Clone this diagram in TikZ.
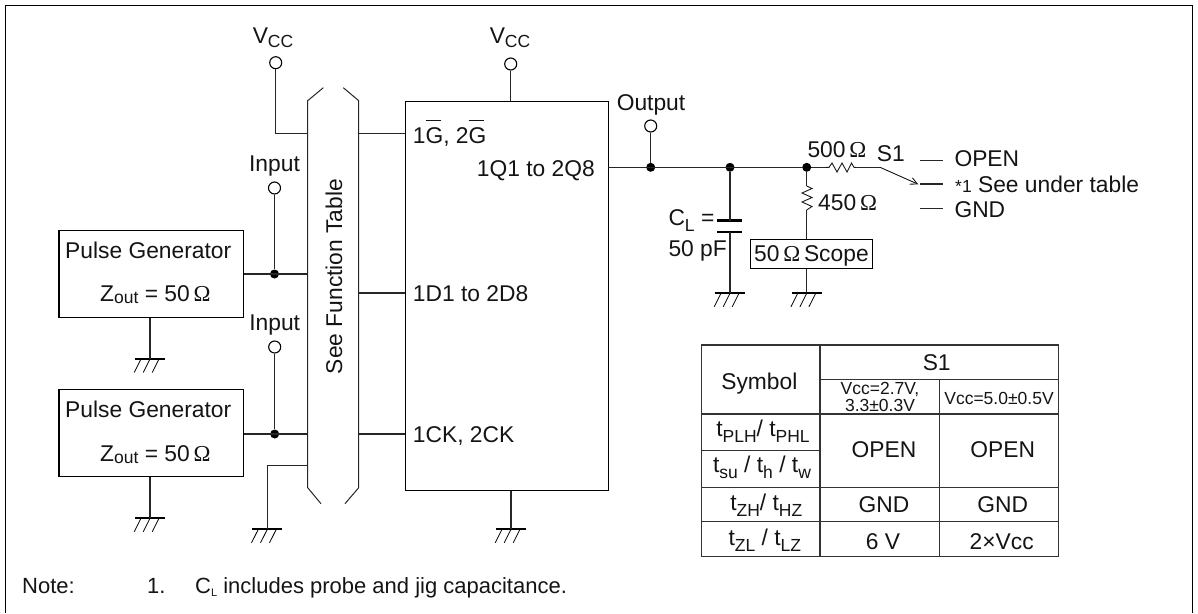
\documentclass[tikz,border=0pt]{standalone}
\usepackage{fontspec}
\setmainfont{Liberation Sans}
\newfontfamily\omgfont{Liberation Serif}
\usetikzlibrary{arrows.meta}
\newcommand{\fsz}{\fontsize{22.8}{24}\selectfont}
\newcommand{\fnt}{\fontsize{22}{24}\selectfont}
\newcommand{\fss}{\fontsize{17.5}{17}\selectfont}
\newcommand{\ohm}{\,{\omgfont Ω}}
\newcommand{\lsub}[1]{\raisebox{-0.12em}{\fss #1}}
\newcommand{\vsub}[1]{\raisebox{-4pt}{\fss #1}}
\newcommand{\dsub}[1]{\raisebox{-6pt}{\fss #1}}
\newcommand{\ovl}[1]{\rlap{\raisebox{22.3pt}{\rule{0.66em}{1.2pt}}}#1}
\tikzset{
  x=1pt,y=-1pt,
  wire/.style={draw=black!85,line width=1.1pt},
  boxn/.style={draw=black,line width=1.4pt,inner sep=0pt,anchor=north west},
  term/.style={circle,draw=black,fill=white,line width=1.1pt,minimum size=12pt,inner sep=0pt},
  dot/.style={circle,fill=black,minimum size=9pt,inner sep=0pt},
  txt/.style={font=\fsz,inner sep=0pt,text=black!92},
  ltxt/.style={txt,anchor=base west},
  ctxt/.style={txt,anchor=base},
  cell/.style={txt,anchor=base},
  notetxt/.style={ltxt,font=\fnt},
  grid/.style={draw=black!80,line width=1.1pt},
  gndbar/.style={draw=black,line width=2pt},
  hatch/.style={draw=black,line width=.8pt},
  plate/.style={draw=black,line width=2.5pt},
  band/.style={draw=black!85,line width=1pt},
  res/.style={draw=black!90,line width=.9pt}
}
\newcommand{\gnd}[3]{% name x y
  \coordinate (#1) at (#2,#3);
  \draw[gndbar] ([xshift=-15pt]#1) -- ([xshift=15pt]#1);
  \foreach \d in {-9,0,9}{\draw[hatch] ([xshift=\d pt]#1) -- ([xshift=\d pt-6.8pt,yshift=-13.5pt]#1);}
}
\begin{document}
\begin{tikzpicture}
\useasboundingbox (0,0) rectangle (1198,613);
\draw[black,line width=1.4pt] (5.5,613) -- (5.5,5.5) -- (1192.3,5.5) -- (1192.3,613);
% boxes
\node[boxn,minimum width=184.4pt,minimum height=86.7pt] (pg1) at (58.3,230) {};
\node[boxn,minimum width=184.4pt,minimum height=87pt] (pg2) at (58.3,389) {};
\node[boxn,minimum width=203pt,minimum height=389.3pt] (ic) at (405,100.7) {};
\node[boxn,line width=1.1pt,minimum width=121.7pt,minimum height=29.3pt] (scope) at (750,238.7) {};
% band
\draw[band] (323.3,87.7) -- (307.7,100.7) -- (307.7,487.7) -- (321,503.7);
\draw[band] (343.3,87.7) -- (358.7,100.7) -- (358.7,487.7) -- (345,503.7);
\coordinate (bL1) at (307.7,133.3);
\coordinate (bL2) at (307.7,274);
\coordinate (bL3) at (307.7,434);
\coordinate (bL4) at (307.7,465.7);
\coordinate (bR1) at (358.7,133.7);
\coordinate (bR2) at (358.7,293);
\coordinate (bR3) at (358.7,434);
\coordinate (icL1) at (405,133.7);
\coordinate (icL2) at (405,293);
\coordinate (icL3) at (405,434);
\coordinate (icO) at (608,167.3);
\node[txt,rotate=90] (sft) at (334,276.5) {See Function Table};
% terminals
\node[term] (vcc1) at (275.7,62.7) {};
\node[term] (vcc2) at (510.7,64) {};
\node[term] (in1) at (274.5,188) {};
\node[term] (in2) at (274.7,347) {};
\node[term] (out) at (650.7,126) {};
\node[dot] (d1) at (274.5,274) {};
\node[dot] (d2) at (274.7,434) {};
\node[dot] (d3) at (650.7,167.3) {};
\node[dot] (d4) at (730,167.3) {};
\node[dot] (d5) at (806.7,167.3) {};
% grounds
\gnd{g1}{150}{359}
\gnd{g2}{150}{518.3}
\gnd{g3}{267.3}{529.3}
\gnd{g4}{511}{529.3}
\gnd{g5}{730}{293.3}
\gnd{g6}{806.7}{293.3}
% connectors
\draw[wire] (vcc1) -- (vcc1 |- bL1) -- (bL1);
\draw[wire] (vcc2) -- (vcc2 |- ic.north);
\draw[wire] (bR1) -- (icL1);
\draw[wire] (bR2) -- (icL2);
\draw[wire] (bR3) -- (icL3);
\draw[wire] (in1) -- (d1);
\draw[wire] (in2) -- (d2);
\draw[wire] (pg1.east |- d1) -- (bL2);
\draw[wire] (pg2.east |- d2) -- (bL3);
\draw[wire] (pg1.south -| g1) -- (g1);
\draw[wire] (pg2.south -| g2) -- (g2);
\draw[wire] (bL4) -- (g3 |- bL4) -- (g3);
\draw[wire] (ic.south -| g4) -- (g4);
\draw[wire] (out) -- (d3);
\draw[wire] (icO) -- (d5);
% cap
\coordinate (capT) at (730,220.7);
\coordinate (capB) at (730,232);
\draw[plate] (717.3,220.7) -- (742.3,220.7);
\draw[plate] (717.3,232) -- (742.3,232);
\draw[wire] (d4) -- (capT);
\draw[wire] (capB) -- (g5);
% horizontal resistor and switch
\coordinate (rhA) at (826,167.3);
\coordinate (rhB) at (856,167.3);
\coordinate (swA) at (880,167.3);
\coordinate (swT) at (918.3,184.3);
\draw[wire] (d5) -- (rhA);
\draw[res] (rhA) -- (829,167.3) -- (832,163) -- (837,172) -- (842,163) -- (847,172) -- (851.5,163) -- (854,167.3) -- (rhB);
\draw[wire] (rhB) -- (swA);
\draw[res,-{Straight Barb[length=7pt,width=7pt]}] (swA) -- (swT);
\draw[wire] (920,160.7) -- (942.7,160.7);
\draw[wire] (920,184) -- (942.7,184);
\draw[wire] (920,208.3) -- (942.7,208.3);
% vertical resistor
\coordinate (rvA) at (806.7,186);
\coordinate (rvB) at (806.7,210);
\draw[wire] (d5) -- (rvA);
\draw[res] (rvA) -- (812,188.5) -- (802,193) -- (812,197.5) -- (802,202) -- (812,206.5) -- (rvB);
\draw[wire] (rvB) -- (scope.north -| rvB);
\draw[wire] (scope.south -| g6) -- (g6);
% texts
\node[ctxt] (tv1) at (273,43.3) {V\vsub{CC}};
\node[ctxt] (tv2) at (510,43.3) {V\vsub{CC}};
\node[ctxt] (ti1) at (274.5,171) {Input};
\node[ctxt] (ti2) at (274.7,330) {Input};
\node[ctxt] (to) at (651,110) {Output};
\node[ltxt] (tp1) at (65,258) {Pulse Generator};
\node[ltxt] (tz1) at (100,301) {Z\lsub{out} = 50\ohm};
\node[ltxt] (tp2) at (65,417.5) {Pulse Generator};
\node[ltxt] (tz2) at (100,461) {Z\lsub{out} = 50\ohm};
\node[ltxt] (t1g) at (412.7,143) {1\ovl{G}, 2\ovl{G}};
\node[ltxt] (t1q) at (476.7,176.7) {1Q1 to 2Q8};
\node[ltxt] (t1d) at (412.7,301) {1D1 to 2D8};
\node[ltxt] (t1c) at (412.7,442.7) {1CK, 2CK};
\node[ltxt] (t500) at (807.3,157.3) {500\ohm};
\node[ltxt] (ts1) at (876.7,161.7) {S1};
\node[ltxt] (t450) at (818,210) {450\ohm};
\node[ltxt] (tcl) at (668.3,225) {C\dsub{L} =};
\node[ltxt] (t50p) at (668.3,256) {50 pF};
\node[ctxt] (tsc) at (scope.center |- 0,261.7) {50\ohm\,Scope};
\node[ltxt] (topen) at (954.3,166) {OPEN};
\node[ltxt] (tsee) at (955,192.7) {{\fss *1} See under table};
\node[ltxt] (tgnd) at (954.3,217.3) {GND};
\node[notetxt] (tnote) at (22,593) {Note:};
\node[notetxt] (tn1) at (147,593) {1.};
\node[notetxt] (tcap) at (195,593) {C\raisebox{-0.15em}{\fontsize{11}{12}\selectfont L} includes probe and jig capacitance.};
% table
\draw[grid] (701.7,345) rectangle (1058.3,556.7);
\draw[grid] (820,345) -- (820,556.7);
\draw[grid] (939.3,379.3) -- (939.3,556.7);
\draw[grid] (820,379.3) -- (1058.3,379.3);
\draw[grid] (701.7,414) -- (1058.3,414);
\draw[grid] (701.7,450.7) -- (820,450.7);
\draw[grid] (701.7,487.3) -- (1058.3,487.3);
\draw[grid] (701.7,521.7) -- (1058.3,521.7);
\node[cell] (c1) at (759.3,389.3) {Symbol};
\node[cell] (c2) at (936.7,370.7) {S1};
\node[cell,font=\fss] (c3) at (880,394) {Vcc=2.7V,};
\node[cell,font=\fss] (c4) at (880,411) {3.3±0.3V};
\node[cell,font=\fss] (c5) at (999,404) {Vcc=5.0±0.5V};
\node[cell] (c6) at (763,436) {t\dsub{PLH}/ t\dsub{PHL}};
\node[cell] (c7) at (762,472.7) {t\dsub{su} / t\dsub{h} / t\dsub{w}};
\node[cell] (c8) at (766.3,510) {t\dsub{ZH}/ t\dsub{HZ}};
\node[cell] (c9) at (764.8,545) {t\dsub{ZL} / t\dsub{LZ}};
\node[cell] (c10) at (884,457.7) {OPEN};
\node[cell] (c11) at (1002.7,457.7) {OPEN};
\node[cell] (c12) at (884,512.7) {GND};
\node[cell] (c13) at (1002.7,512.7) {GND};
\node[cell] (c14) at (883,549) {6 V};
\node[cell] (c15) at (1001.7,549) {2×Vcc};
\end{tikzpicture}
\end{document}
